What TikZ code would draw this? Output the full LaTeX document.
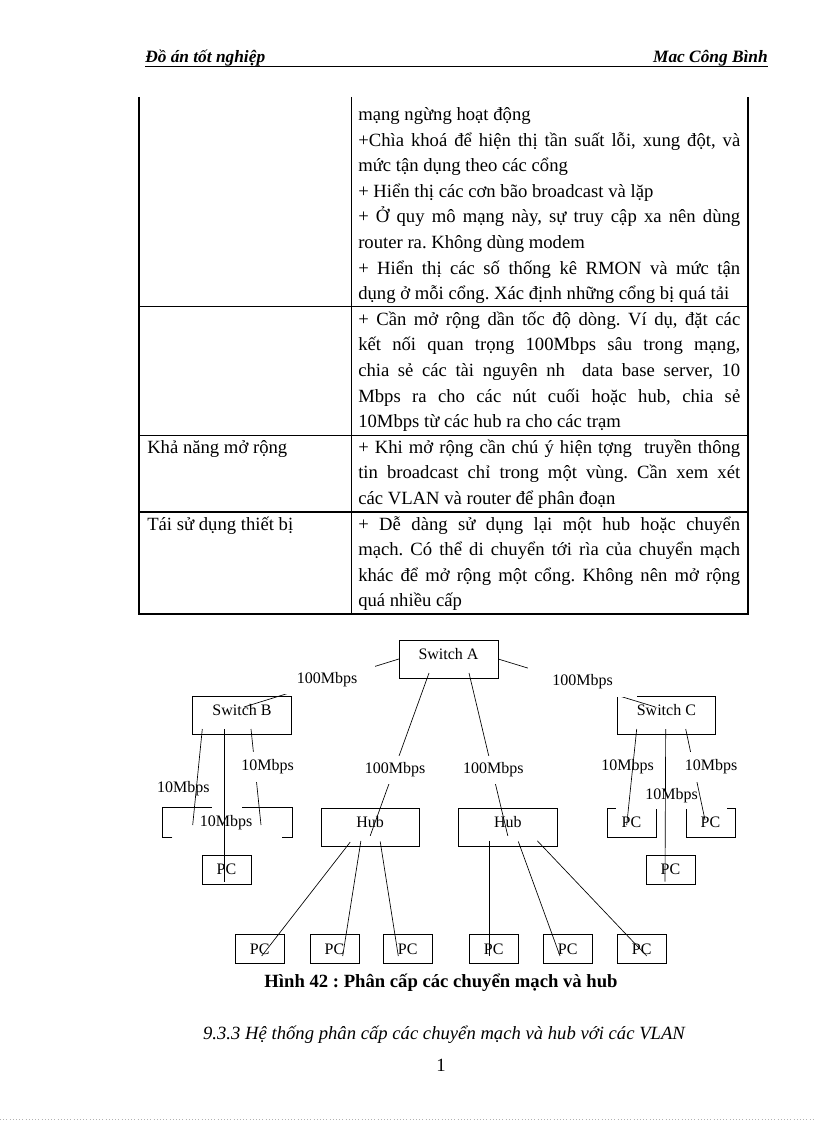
\documentclass[tikz,border=0pt]{standalone}
\usepackage{fontspec}
\setmainfont{Liberation Serif}
\usetikzlibrary{positioning}
\frenchspacing

\newcommand{\bodyfont}{\fontsize{14}{19.2}\selectfont\lineskiplimit=-20pt\relax}
\newcommand{\diagfont}{\fontsize{12}{14}\selectfont}

\begin{document}
\begin{tikzpicture}[
    x=0.75pt, y=-0.75pt,
    rule/.style={draw=black, line width=0.8pt},
    cell/.style={
        anchor=north west, inner sep=0pt, text width=286.5pt,
        align=justify, font=\bodyfont,
    },
    lcell/.style={anchor=north west, inner sep=0pt, font=\bodyfont},
    dev/.style={
        draw=black, line width=0.5pt, minimum width=74pt, minimum height=28.5pt,
        inner sep=0pt, text height=8pt, text depth=8pt, font=\diagfont,
    },
    pc/.style={
        draw=black, line width=0.5pt, minimum width=36.75pt, minimum height=21.75pt,
        inner sep=0pt, font=\diagfont,
    },
    lbl/.style={inner sep=0pt, font=\diagfont},
    cover/.style={lbl, fill=white},
    link/.style={draw=black, line width=0.5pt},
]
\useasboundingbox (0,0) rectangle (816,1123);

% ── Header ───────────────────────────────────────────────────────────
\node[anchor=base west, inner sep=0pt, font=\fontsize{13}{15}\selectfont\bfseries\itshape]
    (hdl) at (145,63) {Đồ án tốt nghiệp};
\node[anchor=base east, inner sep=0pt, font=\fontsize{13}{15}\selectfont\bfseries\itshape]
    (hdr) at (768,63) {Mac Công Bình};
\draw[line width=0.6pt] ([shift={(0,3)}]hdl.base west) -- ([shift={(0,3)}]hdr.base east);

% ── Table ────────────────────────────────────────────────────────────
\draw[rule] (139,97) -- (139,614) -- (748,614) -- (748,97);
\draw[rule] (351.5,97) -- (351.5,614);
\foreach \y in {306.5, 435.5, 512}
    \draw[rule] (139,\y) -- (748,\y);

\node[cell] (r1) at (358,102.3) {\strut mạng ngừng hoạt động\\
    +Chìa khoá để hiện thị tần suất lỗi, xung đột, và\linebreak
    mức tận dụng theo các cổng\\
    + Hiển thị các cơn bão broadcast và lặp\\
    + Ở quy mô mạng này, sự truy cập xa nên dùng\linebreak
    router ra. Không dùng modem\\
    + Hiển thị các số thống kê RMON và mức tận\linebreak
    dụng ở mỗi cổng. Xác định những cổng bị quá tải};
\node[cell] (r2) at (358,307.1) {\strut + Cần mở rộng dần tốc độ dòng. Ví dụ, đặt các\linebreak
    kết nối quan trọng 100Mbps sâu trong mạng,\linebreak
    chia sẻ các tài nguyên nh\ \ data base server, 10\linebreak
    Mbps ra cho các nút cuối hoặc hub, chia sẻ\linebreak
    10Mbps từ các hub ra cho các trạm};
\node[lcell] (k3) at (147,435.1) {\strut Khả năng mở rộng};
\node[cell] (r3) at (358,435.1) {\strut + Khi mở rộng cần chú ý hiện tợng\ \ truyền thông\linebreak
    tin broadcast chỉ trong một vùng. Cần xem xét\linebreak
    các VLAN và router để phân đoạn};
\node[lcell] (k4) at (147,511.9) {\strut Tái sử dụng thiết bị};
\node[cell] (r4) at (358,511.9) {\strut + Dễ dàng sử dụng lại một hub hoặc chuyển\linebreak
    mạch. Có thể di chuyển tới rìa của chuyển mạch\linebreak
    khác để mở rộng một cổng. Không nên mở rộng\linebreak
    quá nhiều cấp};

% ── Devices ──────────────────────────────────────────────────────────
\node[dev] (swA)  at (448.5,659)   {Switch A};
\node[dev] (swB)  at (242,715)     {Switch B};
\node[dev] (swC)  at (666.4,715)   {Switch C};
\node[dev] (hubL) at (370.2,827.8) {Hub};
\node[dev] (hubR) at (507.8,827.8) {Hub};

\node[pc] (pcB)  at (226.4,869.5) {PC};
\node[pc] (pcC)  at (670.4,869.5) {PC};
\node[pc] (pcC1) at (631.4,822.7) {PC};
\node[pc] (pcC2) at (710.4,822.7) {PC};
\node[pc, draw=none, minimum width=96.75pt] (bxB) at (227.2,822.5) {};
\foreach \n/\x in {1/259.7, 2/334.5, 3/407.7, 4/493.7, 5/567.7, 6/641.7}
    \node[pc] (pc\n) at (\x,948.8) {PC};

% open box under Switch B
\draw[link] ([shift={(10,0)}]bxB.south west) -- (bxB.south west)
    -- (bxB.north west) -- ([shift={(50,0)}]bxB.north west);
\draw[link] ([shift={(-50,0)}]bxB.north east) -- (bxB.north east)
    -- (bxB.south east) -- ([shift={(-10,0)}]bxB.south east);

% labels lying under the links
\node[lbl]   (l10a) at (183.3,788.3) {10Mbps};
\node[lbl]   (l10c) at (226,822.7)   {10Mbps};
\node[lbl]   (l10d) at (627.5,766.7) {10Mbps};
\node[cover, minimum width=83.25pt, minimum height=19.5pt] (l10e) at (671.5,796) {10Mbps};

% ── Links ────────────────────────────────────────────────────────────
\draw[link] (swA.west) -- ([shift={(2,-8)}]swB.center);
\draw[link] (swA.east) -- ([shift={(-11,-8)}]swC.center);
\draw[link] ([shift={(-19.5,14)}]swA.center) -- ([shift={(0,8)}]hubL.center);
\draw[link] ([shift={(20.5,14)}]swA.center)  -- ([shift={(0,8)}]hubR.center);

\draw[link] ([shift={(-39.7,14)}]swB.center) -- ([shift={(-34.5,2.5)}]bxB.center);
\draw[link] ([shift={(-18,14)}]swB.center)   -- ([shift={(-2.4,12.5)}]pcB.center);
\draw[link] ([shift={(9,14)}]swB.center)     -- ([shift={(33.8,2.5)}]bxB.center);

\draw[link] ([shift={(-29.7,14)}]swC.center) -- ([shift={(-4.7,2.3)}]pcC1.center);
\draw[link] ([shift={(-0.7,14)}]swC.center)  -- ([shift={(-5.4,12.2)}]pcC.center);
\draw[link] ([shift={(19.3,14)}]swC.center)  -- ([shift={(-5.4,-2.7)}]pcC2.center);

\draw[link] ([shift={(-20,14.3)}]hubL.center) -- ([shift={(2,7.2)}]pc1.center);
\draw[link] ([shift={(-9.3,13)}]hubL.center)  -- ([shift={(8.2,7.2)}]pc2.center);
\draw[link] ([shift={(10,13.7)}]hubL.center)  -- ([shift={(-9.4,7.2)}]pc3.center);
\draw[link] ([shift={(-18.8,12.7)}]hubR.center) -- ([shift={(-4.7,7.2)}]pc4.center);
\draw[link] ([shift={(10.5,13.7)}]hubR.center)  -- ([shift={(-7.7,7.2)}]pc5.center);
\draw[link] ([shift={(29.5,13)}]hubR.center)    -- ([shift={(5,7.2)}]pc6.center);

% labels breaking the links
\node[cover, minimum width=72pt, minimum height=21pt]    (l100a) at (327,680)     {100Mbps};
\node[cover, minimum width=81.75pt, minimum height=22.5pt] (l100b) at (582.5,682) {100Mbps};
\node[cover, minimum width=49.5pt, minimum height=21pt]  (l100c) at (395,769.5)   {100Mbps};
\node[cover, minimum width=49.5pt, minimum height=21pt]  (l100d) at (493.3,769.5) {100Mbps};
\node[cover, minimum width=40.5pt, minimum height=22.5pt] (l10b) at (267.5,766.7) {10Mbps};
\node[cover, minimum width=40.5pt, minimum height=22.5pt] (l10f) at (711.2,766.7) {10Mbps};

% ── Caption and text below ───────────────────────────────────────────
\node[anchor=base, inner sep=0pt, font=\fontsize{14}{17}\selectfont\bfseries]
    (cap) at (441,987) {Hình 42 : Phân cấp các chuyển mạch và hub};
\node[anchor=base, inner sep=0pt, font=\fontsize{14}{17}\selectfont\itshape]
    (sec) at (444,1039) {9.3.3 Hệ thống phân cấp các chuyển mạch và hub với các VLAN};
\node[anchor=base, inner sep=0pt, font=\fontsize{14}{17}\selectfont]
    (pg) at (441,1071) {1};

\draw[black!30, dotted] (0,1119) -- (816,1119);
\end{tikzpicture}
\end{document}
